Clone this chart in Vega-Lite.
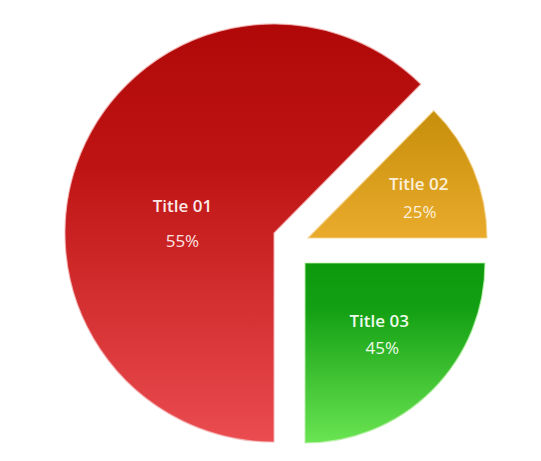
{
  "$schema": "https://vega.github.io/schema/vega-lite/v6.json",
  "width": 541,
  "height": 461,
  "padding": 0,
  "autosize": {"type": "fit", "contains": "padding"},
  "background": "white",
  "view": {"stroke": null},
  "data": {
    "values": [
      {"title": "Title 01", "label": "55%", "share": 62.4},
      {"title": "Title 02", "label": "25%", "share": 12.6},
      {"title": "Title 03", "label": "45%", "share": 25}
    ]
  },
  "encoding": {
    "theta": {"field": "share", "type": "quantitative", "stack": true, "scale": {"range": [3.14159, 9.42478]}},
    "order": {"field": "title", "type": "ordinal", "sort": "ascending"},
    "detail": {"field": "title"}
  },
  "layer": [
    {
      "mark": {
        "type": "arc", "radius": 209, "xOffset": 3.5, "yOffset": 2.5,
        "stroke": "#f3b0b0", "strokeWidth": 1.2, "strokeOpacity": 0.8,
        "fill": {"gradient": "linear", "x1": 0, "y1": 0, "x2": 0, "y2": 1,
          "stops": [{"offset": 0, "color": "#b00808"}, {"offset": 0.35, "color": "#bf1414"}, {"offset": 1, "color": "#ea4c50"}]}
      },
      "encoding": {"opacity": {"condition": {"test": "datum.title === 'Title 01'", "value": 1}, "value": 0}}
    },
    {
      "mark": {
        "type": "arc", "radius": 179, "xOffset": 37.5, "yOffset": 7.5,
        "stroke": "#f5d590", "strokeWidth": 1.2, "strokeOpacity": 0.8,
        "fill": {"gradient": "linear", "x1": 0, "y1": 0, "x2": 0, "y2": 1,
          "stops": [{"offset": 0, "color": "#c68e0a"}, {"offset": 1, "color": "#eaab2c"}]}
      },
      "encoding": {"opacity": {"condition": {"test": "datum.title === 'Title 02'", "value": 1}, "value": 0}}
    },
    {
      "mark": {
        "type": "arc", "radius": 180, "xOffset": 34.5, "yOffset": 32.5,
        "stroke": "#b8f0a8", "strokeWidth": 1.2, "strokeOpacity": 0.8,
        "fill": {"gradient": "linear", "x1": 0, "y1": 0, "x2": 0, "y2": 1,
          "stops": [{"offset": 0, "color": "#0c9a0c"}, {"offset": 0.25, "color": "#139f13"}, {"offset": 1, "color": "#6ae452"}]}
      },
      "encoding": {"opacity": {"condition": {"test": "datum.title === 'Title 03'", "value": 1}, "value": 0}}
    },
    {
      "mark": {"type": "text", "radius": 99, "xOffset": 3.5, "yOffset": 2.5, "dy": 11.5, "font": "Open Sans", "fontSize": 17, "fontWeight": 600, "fill": "#fbe9e9"},
      "encoding": {"text": {"condition": {"test": "datum.title === 'Title 01'", "field": "title"}, "value": ""}}
    },
    {
      "mark": {"type": "text", "radius": 99, "xOffset": 3.5, "yOffset": 2.5, "dy": 46.5, "font": "Open Sans", "fontSize": 17, "fontWeight": 400, "fill": "#fbe3e3"},
      "encoding": {"text": {"condition": {"test": "datum.title === 'Title 01'", "field": "label"}, "value": ""}}
    },
    {
      "mark": {"type": "text", "radius": 120, "xOffset": 37.5, "yOffset": 7.5, "dy": -6.6, "font": "Open Sans", "fontSize": 17, "fontWeight": 600, "fill": "#fbf0da"},
      "encoding": {"text": {"condition": {"test": "datum.title === 'Title 02'", "field": "title"}, "value": ""}}
    },
    {
      "mark": {"type": "text", "radius": 120, "xOffset": 38.5, "yOffset": 7.5, "dy": 21.4, "font": "Open Sans", "fontSize": 17, "fontWeight": 400, "fill": "#fbf0da"},
      "encoding": {"text": {"condition": {"test": "datum.title === 'Title 02'", "field": "label"}, "value": ""}}
    },
    {
      "mark": {"type": "text", "radius": 105, "xOffset": 34.5, "yOffset": 32.5, "dy": -15, "font": "Open Sans", "fontSize": 17, "fontWeight": 600, "fill": "#eefbea"},
      "encoding": {"text": {"condition": {"test": "datum.title === 'Title 03'", "field": "title"}, "value": ""}}
    },
    {
      "mark": {"type": "text", "radius": 105, "xOffset": 37.5, "yOffset": 32.5, "dy": 12, "font": "Open Sans", "fontSize": 17, "fontWeight": 400, "fill": "#eefbea"},
      "encoding": {"text": {"condition": {"test": "datum.title === 'Title 03'", "field": "label"}, "value": ""}}
    }
  ]
}
